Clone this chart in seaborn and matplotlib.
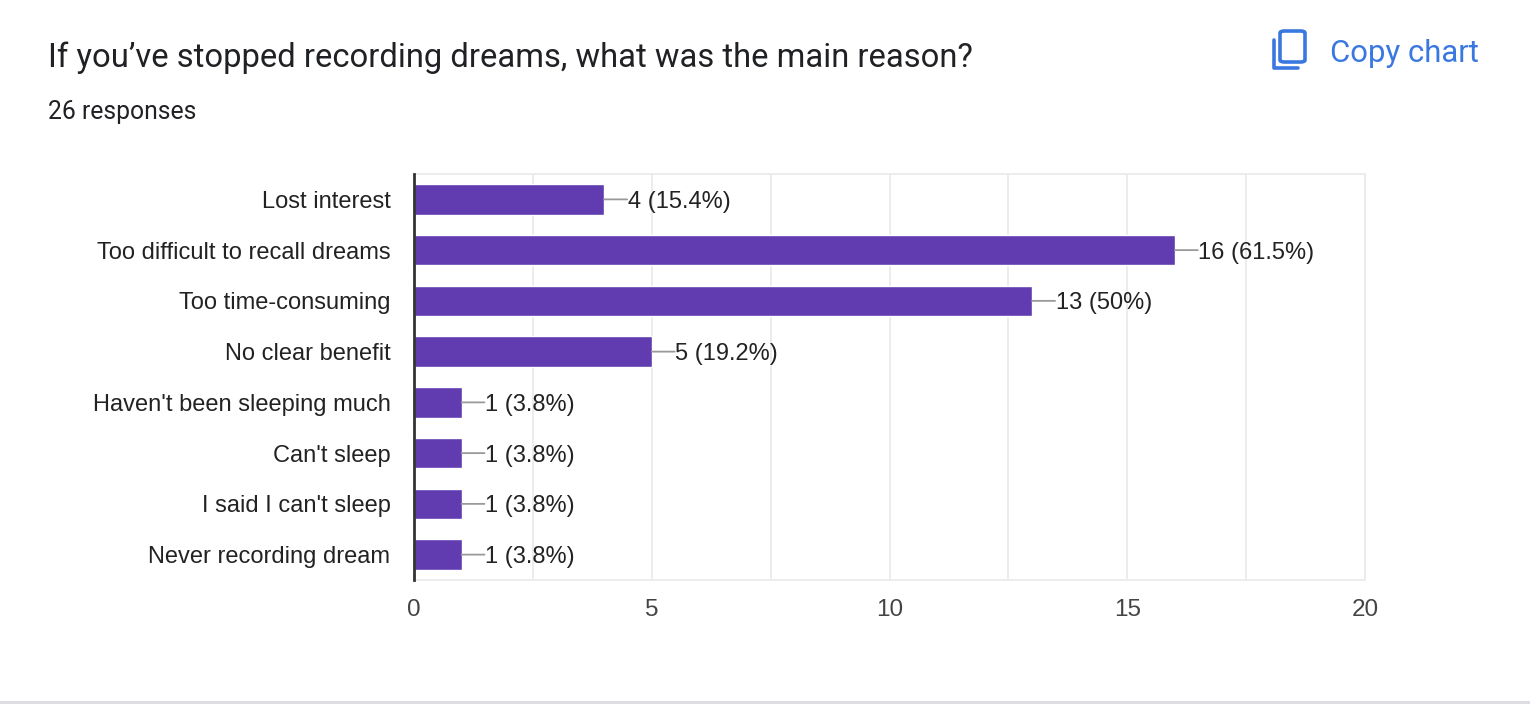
import pandas as pd
import seaborn as sns
import matplotlib.pyplot as plt
from matplotlib.patches import FancyBboxPatch
from matplotlib.lines import Line2D


# Survey answers and counts
reasons = [
    "Lost interest",
    "Too difficult to recall dreams",
    "Too time-consuming",
    "No clear benefit",
    "Haven't been sleeping much",
    "Can't sleep",
    "I said I can't sleep",
    "Never recording dream",
]
counts = [4, 16, 13, 5, 1, 1, 1, 1]
percents = ["15.4%", "61.5%", "50%", "19.2%", "3.8%", "3.8%", "3.8%", "3.8%"]
x_ticks = [0, 5, 10, 15, 20]

df = pd.DataFrame({"reason": reasons, "count": counts, "pct": percents})

sns.set_style("white")
plt.rcParams["font.family"] = ["Liberation Sans", "DejaVu Sans"]

fig = plt.figure(figsize=(15.3, 7.04), dpi=100)
ax = fig.add_axes([414 / 1530, 1 - 580 / 704, (1365 - 414) / 1530, (580 - 174) / 704])

sns.barplot(data=df, x="count", y="reason", orient="h", color="#613bb0",
            width=0.6, saturation=1, ax=ax, zorder=3)

# Value labels with a short leader line
for i, row in df.iterrows():
    ax.annotate("", xy=(row["count"], i), xytext=(16.5, 0), textcoords="offset points",
                arrowprops=dict(arrowstyle="-", color="#999999", lw=1.3,
                                shrinkA=0, shrinkB=0))
    ax.annotate(f"{row['count']} ({row['pct']})", xy=(row["count"], i),
                xytext=(17, 0), textcoords="offset points",
                ha="left", va="center_baseline", fontsize=17, color="#222222")

ax.set_xlim(0, 20)
ax.set_xticks(x_ticks)
ax.set_xticks([2.5, 7.5, 12.5, 17.5], minor=True)
ax.grid(axis="x", which="both", color="#ebebeb", lw=1.3, zorder=0)
ax.tick_params(axis="x", which="both", length=0, pad=13.5, labelsize=17.5, labelcolor="#444444")
ax.tick_params(axis="y", length=0, pad=17, labelsize=17, labelcolor="#222222")
ax.set_xlabel("")
ax.set_ylabel("")
for side in ["top", "right", "bottom"]:
    ax.spines[side].set_color("#ebebeb")
    ax.spines[side].set_linewidth(1.3)
ax.spines["left"].set_color("#333333")
ax.spines["left"].set_linewidth(2)
ax.spines["left"].set_zorder(5)

# Header text
fig.text(48 / 1530, 1 - 58 / 704, "If you\u2019ve stopped recording dreams, what was the main reason?",
         fontsize=23.6, color="#202124", va="center", ha="left", family=["Roboto", "DejaVu Sans"])
fig.text(48 / 1530, 1 - 112 / 704, "26 responses", fontsize=17.8, color="#202124",
         va="center", ha="left", family=["Roboto", "DejaVu Sans"])

# Copy chart button
blue = "#3a78e0"
fig.text(1330 / 1530, 1 - 53 / 704, "Copy chart", fontsize=22.4, color=blue,
         va="center", ha="left", family=["Roboto", "DejaVu Sans"])
W, H = 1530, 704
fig.add_artist(FancyBboxPatch((1280 / W, 1 - 62 / H), 25 / W, 31 / H,
                              boxstyle="round,pad=0,rounding_size=0.003",
                              transform=fig.transFigure, fill=False, ec=blue, lw=2.6))
fig.add_artist(Line2D([1274 / W, 1274 / W, 1298 / W], [1 - 40 / H, 1 - 68 / H, 1 - 68 / H],
                      transform=fig.transFigure, color=blue, lw=2.6))

# Card bottom border
fig.add_artist(Line2D([0, 1], [2 / H, 2 / H], transform=fig.transFigure, color="#dadce0", lw=2))

fig.savefig("out.png", dpi=100)
